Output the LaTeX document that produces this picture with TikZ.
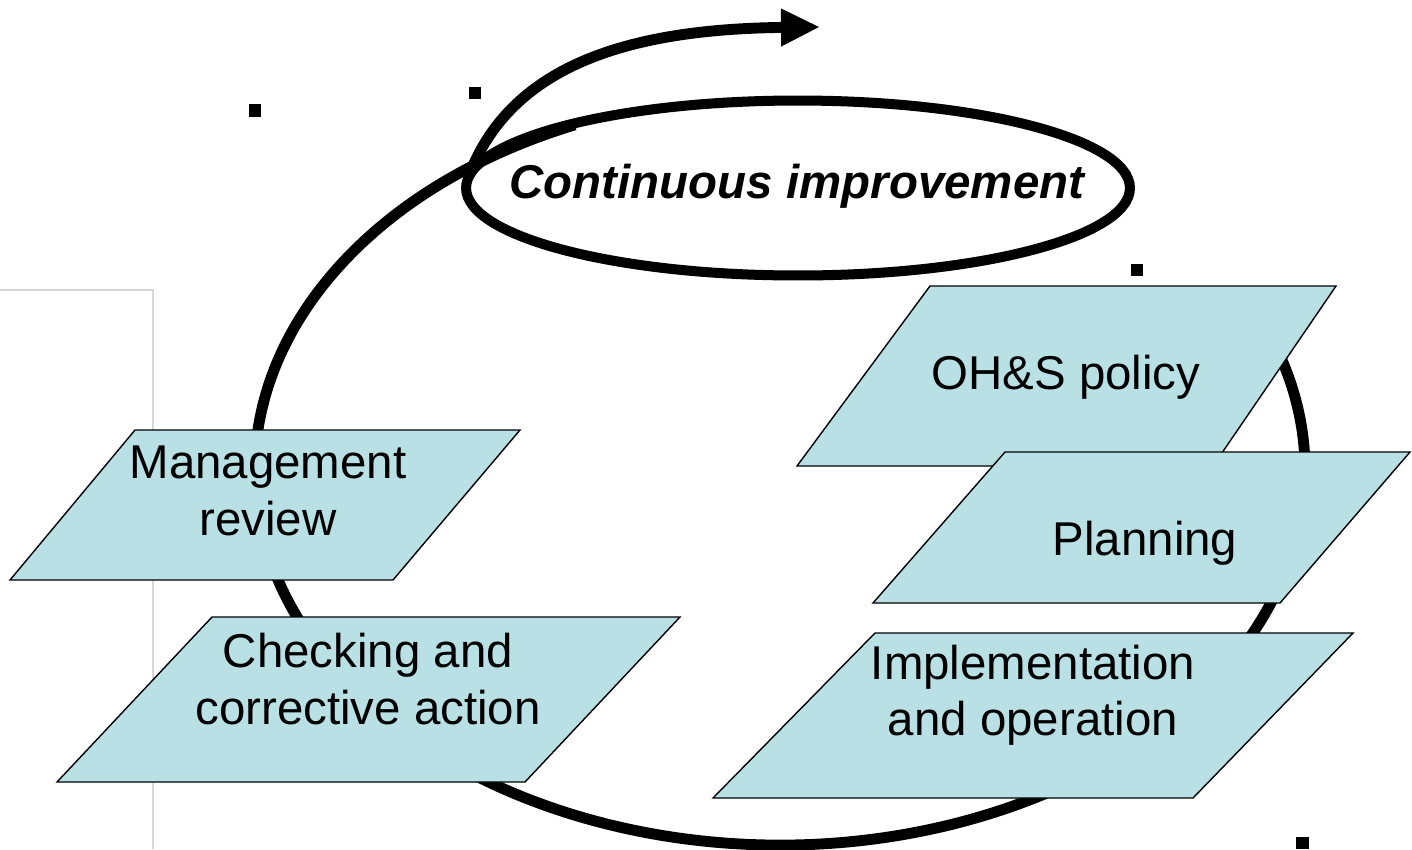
\documentclass[tikz,border=0pt]{standalone}
\usepackage{fontspec}
\setmainfont{Liberation Sans}
\usetikzlibrary{shapes.geometric,arrows.meta}
\definecolor{sheetblue}{RGB}{185,224,228}
\definecolor{framegray}{RGB}{215,215,215}

\begin{document}
\begin{tikzpicture}[x=0.02cm,y=-0.02cm,
  stage/.style={font=\fontsize{27}{32}\selectfont,align=center,inner sep=0pt},
  sheet/.style={draw=black,fill=sheetblue,line width=0.8pt},
  ring line/.style={line width=6.2pt}]

  \useasboundingbox (0,0) rectangle (1412,849);

  % frame at the left
  \draw[framegray,line width=1pt] (0,290) -- (153,290) -- (153,849);

  % small marks
  \fill (249,104) rectangle (261,117);
  \fill (469,87) rectangle (481,99);
  \fill (1131,264) rectangle (1143,276);
  \fill (1296,837) rectangle (1309,849);

  % the big cycle
  \draw[ring line] (780,470) ++(-113:525 and 375)
    arc[start angle=-113,end angle=-385,x radius=525,y radius=375];

  % continuous improvement
  \node[ellipse,draw,line width=5.7pt,minimum width=13.28cm,minimum height=3.5cm] (ring) at (798,188) {};
  \node[stage,font=\fontsize{27}{32}\selectfont\bfseries\itshape] (ci) at (797,186) {Continuous improvement};

  \coordinate (start) at (472,168);
  \coordinate (tip) at (820,27);
  \draw[ring line,-{Triangle[length=0.78cm,width=0.7cm]}]
    (start) .. controls (518,60) and (640,29) .. (tip);

  % the stages
  \filldraw[sheet] (930,286) -- (1336,286) -- (1213,466) -- (797,466) -- cycle;
  \filldraw[sheet] (1005,452) -- (1410,452) -- (1280,603) -- (873,603) -- cycle;
  \filldraw[sheet] (875,633) -- (1353,633) -- (1193,798) -- (713,798) -- cycle;
  \filldraw[sheet] (135,430) -- (520,430) -- (393,580) -- (10,580) -- cycle;
  \filldraw[sheet] (212,617) -- (680,617) -- (525,782) -- (57,782) -- cycle;

  \node[stage] (policy) at (1066,377) {OH\&S policy};
  \node[stage] (plan) at (1145,543) {Planning};
  \node[stage] (impl) at (1033,695) {Implementation\\and operation};
  \node[stage] (review) at (268,491) {Management\\review};
  \node[stage] (check) at (368,679) {Checking and\\corrective action};
\end{tikzpicture}
\end{document}
